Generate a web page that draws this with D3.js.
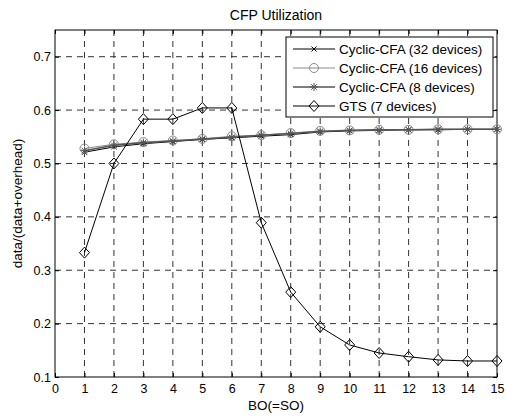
<!DOCTYPE html>
<html><head><meta charset="utf-8">
<script src="https://cdn.jsdelivr.net/npm/d3@7"></script>
<style>body{margin:0;background:#fff}svg{display:block}text{font-family:"Liberation Sans",Arial,sans-serif;font-size:13px;fill:#000}</style>
</head><body>
<svg id="c" width="506" height="416"></svg>
<script>
const bo = [1,2,3,4,5,6,7,8,9,10,11,12,13,14,15];
const cyc32 = [0.521,0.531,0.537,0.541,0.545,0.548,0.551,0.554,0.559,0.561,0.562,0.563,0.563,0.564,0.564];
const cyc16 = [0.528,0.536,0.540,0.543,0.546,0.551,0.553,0.557,0.561,0.562,0.563,0.563,0.564,0.564,0.564];
const cyc8  = [0.524,0.534,0.539,0.542,0.546,0.549,0.553,0.556,0.560,0.562,0.563,0.563,0.564,0.564,0.564];
const gts   = [0.333,0.500,0.583,0.583,0.604,0.604,0.389,0.259,0.194,0.160,0.145,0.138,0.132,0.130,0.130];
const xTicks = [0,1,2,3,4,5,6,7,8,9,10,11,12,13,14,15];
const yTicks = [0.1,0.2,0.3,0.4,0.5,0.6,0.7];
const seriesNames = ["Cyclic-CFA (32 devices)","Cyclic-CFA (16 devices)","Cyclic-CFA (8 devices)","GTS (7 devices)"];

const L=55,R=497,T=30,B=377;
const svg=d3.select("#c");
const x=d3.scaleLinear().domain([0,15]).range([L,R]);
const y=d3.scaleLinear().domain([0.1,0.75]).range([B,T]);

// grid
const g=svg.append("g");
g.selectAll(".vg").data(xTicks.slice(1,-1)).enter().append("line")
 .attr("x1",d=>x(d)).attr("x2",d=>x(d)).attr("y1",T).attr("y2",B)
 .attr("stroke","#333").attr("stroke-dasharray","6,5").attr("stroke-width",1);
g.selectAll(".hg").data(yTicks.slice(1)).enter().append("line")
 .attr("y1",d=>y(d)).attr("y2",d=>y(d)).attr("x1",L).attr("x2",R)
 .attr("stroke","#333").attr("stroke-dasharray","6,5").attr("stroke-width",1);

// axes
const xa=svg.append("g").attr("transform",`translate(0,${B})`)
 .call(d3.axisBottom(x).tickValues(xTicks).tickSize(-4).tickPadding(7).tickFormat(d3.format("d")));
const xt=svg.append("g").attr("transform",`translate(0,${T})`)
 .call(d3.axisTop(x).tickValues(xTicks).tickSize(-4).tickFormat(""));
const ya=svg.append("g").attr("transform",`translate(${L},0)`)
 .call(d3.axisLeft(y).tickValues(yTicks).tickSize(-4).tickPadding(4).tickFormat(d3.format(".1f")));
const yr=svg.append("g").attr("transform",`translate(${R},0)`)
 .call(d3.axisRight(y).tickValues(yTicks).tickSize(-4).tickFormat(""));
[xa,xt,ya,yr].forEach(a=>{a.select(".domain").remove();a.selectAll("text").style("font-size","12.5px").style("font-family","Liberation Sans, Arial, sans-serif");a.selectAll("line").attr("stroke","#000");});
svg.append("rect").attr("x",L).attr("y",T).attr("width",R-L).attr("height",B-T).attr("fill","none").attr("stroke","#000").attr("stroke-width",1);

const line=d3.line().x((d,i)=>x(bo[i])).y(d=>y(d));
function marker(sel,type,cx,cy,color){
  const s=sel.append("g").attr("transform",`translate(${cx},${cy})`).attr("stroke",color).attr("fill","none").attr("stroke-width",1);
  if(type==="x"){s.append("path").attr("d","M-2.5,-2.5L2.5,2.5M-2.5,2.5L2.5,-2.5");}
  else if(type==="o"){s.append("circle").attr("r",4.5);}
  else if(type==="*"){s.append("path").attr("d","M-4,0L4,0M0,-4L0,4M-2.8,-2.8L2.8,2.8M-2.8,2.8L2.8,-2.8");}
  else if(type==="d"){s.append("path").attr("d","M0,-5.5L5,0L0,5.5L-5,0Z");}
}
const series=[
 {v:cyc32,c:"#000",m:"x",w:1},
 {v:cyc16,c:"#8a8a8a",m:"o",w:1},
 {v:cyc8,c:"#555",m:"*",w:1.5},
 {v:gts,c:"#000",m:"d",w:1}
];
series.forEach(s=>{
  svg.append("path").datum(s.v).attr("d",line).attr("fill","none").attr("stroke",s.c).attr("stroke-width",s.w);
  s.v.forEach((d,i)=>marker(svg,s.m,x(bo[i]),y(d),s.c));
});

// legend
const lg=svg.append("g");
lg.append("rect").attr("x",286).attr("y",37).attr("width",207).attr("height",80).attr("fill","#fff").attr("stroke","#000");
seriesNames.forEach((n,i)=>{
  const yy=49+i*19;
  const s=series[i];
  lg.append("line").attr("x1",293).attr("x2",335).attr("y1",yy).attr("y2",yy).attr("stroke",s.c).attr("stroke-width",s.w);
  marker(lg,s.m,314,yy,s.c);
  lg.append("text").attr("x",339).attr("y",yy+5).style("font-size","13.5px").text(n);
});

svg.append("text").attr("x",276).attr("y",20).attr("text-anchor","middle").style("font-size","14px").text("CFP Utilization");
svg.append("text").attr("x",276).attr("y",410).attr("text-anchor","middle").style("font-size","13.5px").text("BO(=SO)");
svg.append("text").attr("transform",`translate(22,${(T+B)/2}) rotate(-90)`).attr("text-anchor","middle").style("font-size","13.5px").text("data/(data+overhead)");
</script>
</body></html>
